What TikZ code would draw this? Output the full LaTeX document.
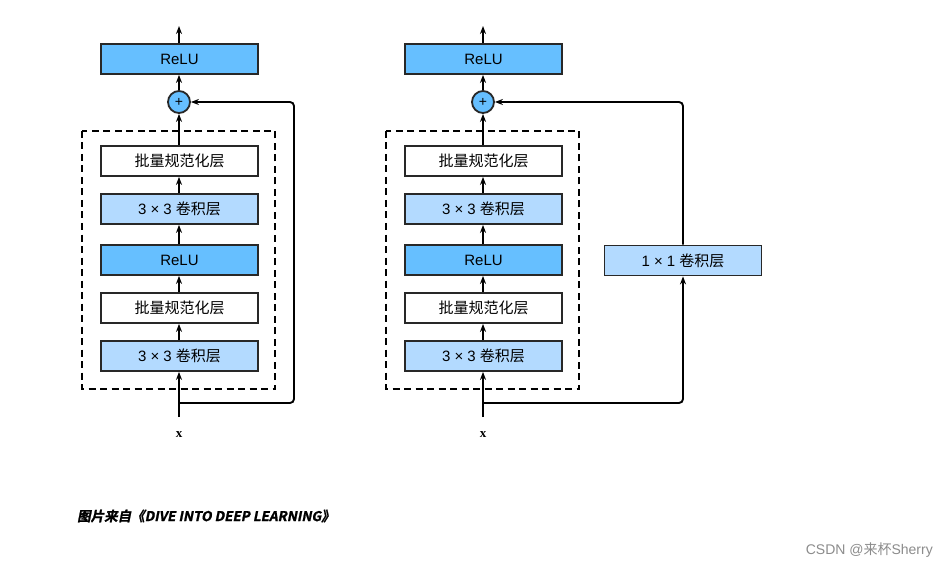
\documentclass[tikz,border=0pt]{standalone}
\usepackage{fontspec}
\setmainfont{Liberation Sans}
\newfontfamily\cjk{Noto Sans CJK SC}
\newfontfamily\xfont{Liberation Serif}
\newfontfamily\capfont[FakeSlant=0.2,FakeBold=1.5]{Noto Sans CJK SC Bold}
\usetikzlibrary{arrows.meta}
\definecolor{reluc}{RGB}{102,191,255}
\definecolor{convc}{RGB}{179,218,255}
\definecolor{edgec}{RGB}{40,40,40}
\begin{document}
\begin{tikzpicture}[x=1pt,y=-1pt,
  layer/.style={draw=edgec,line width=1.8pt,minimum width=157pt,minimum height=30pt,inner sep=0pt,font=\fontsize{15}{17}\selectfont},
  relubox/.style={layer,fill=reluc},
  convbox/.style={layer,fill=convc},
  bnbox/.style={layer,fill=white},
  addnode/.style={circle,draw=edgec,line width=1.8pt,fill=reluc,minimum size=22pt,inner sep=0pt,font=\fontsize{14}{14}\selectfont},
  conn/.style={line width=1.9pt,-{Stealth[length=8pt,width=6pt]}},
  dbox/.style={draw=black,line width=1.8pt,dash pattern=on 7pt off 4.5pt},
  xlabel/.style={font=\xfont\bfseries\fontsize{13}{15}\selectfont}
]
\useasboundingbox (0,0) rectangle (949,569);
\fill[white] (0,0) rectangle (949,569);

% ---------- left ----------
\draw[dbox] (82,131) rectangle (275,389);
\node[relubox] (lrelu) at (179.5,59) {ReLU};
\node[addnode] (ladd) at (179,102) {+};
\node[bnbox] (lbn2) at (179.5,161) {\cjk 批量规范化层};
\node[convbox] (lconv2) at (179.5,209) {3 × 3 {\cjk 卷积层}};
\node[relubox] (lrelu1) at (179.5,260) {ReLU};
\node[bnbox] (lbn1) at (179.5,308) {\cjk 批量规范化层};
\node[convbox] (lconv1) at (179.5,356) {3 × 3 {\cjk 卷积层}};
\node[xlabel] (lx) at (179,435) {x};
\coordinate (lout) at (179,26);
\coordinate (lin) at (179,417);
\coordinate (lbr) at (179,403);
\coordinate (lskipa) at (294,403);
\coordinate (lskipb) at (294,102);
\draw[conn] (lrelu.north -| lout) -- (lout);
\draw[conn] (ladd) -- (lrelu.south -| ladd);
\draw[conn] (lbn2.north -| ladd) -- (ladd);
\draw[conn] (lconv2.north -| ladd) -- (lbn2.south -| ladd);
\draw[conn] (lrelu1.north -| ladd) -- (lconv2.south -| ladd);
\draw[conn] (lbn1.north -| ladd) -- (lrelu1.south -| ladd);
\draw[conn] (lconv1.north -| ladd) -- (lbn1.south -| ladd);
\draw[conn] (lin) -- (lconv1.south -| lin);
\draw[conn,rounded corners=4pt] (lbr) -- (lskipa) -- (lskipb) -- (ladd);

% ---------- right ----------
\draw[dbox] (386,131) rectangle (579,389);
\node[relubox] (rrelu) at (483.5,59) {ReLU};
\node[addnode] (radd) at (483,102) {+};
\node[bnbox] (rbn2) at (483.5,161) {\cjk 批量规范化层};
\node[convbox] (rconv2) at (483.5,209) {3 × 3 {\cjk 卷积层}};
\node[relubox] (rrelu1) at (483.5,260) {ReLU};
\node[bnbox] (rbn1) at (483.5,308) {\cjk 批量规范化层};
\node[convbox] (rconv1) at (483.5,356) {3 × 3 {\cjk 卷积层}};
\node[convbox] (rproj) at (683,260.5) {1 × 1 {\cjk 卷积层}};
\node[xlabel] (rx) at (483,435) {x};
\coordinate (rout) at (483,26);
\coordinate (rin) at (483,417);
\coordinate (rbr) at (483,403);
\coordinate (rskipa) at (683,403);
\coordinate (rskipb) at (683,102);
\draw[conn] (rrelu.north -| rout) -- (rout);
\draw[conn] (radd) -- (rrelu.south -| radd);
\draw[conn] (rbn2.north -| radd) -- (radd);
\draw[conn] (rconv2.north -| radd) -- (rbn2.south -| radd);
\draw[conn] (rrelu1.north -| radd) -- (rconv2.south -| radd);
\draw[conn] (rbn1.north -| radd) -- (rrelu1.south -| radd);
\draw[conn] (rconv1.north -| radd) -- (rbn1.south -| radd);
\draw[conn] (rin) -- (rconv1.south -| rin);
\draw[conn,rounded corners=4pt] (rbr) -- (rskipa) -- (rproj);
\draw[conn,rounded corners=4pt] (rproj) -- (rskipb) -- (radd);

% ---------- caption & watermark ----------
\node[anchor=west,inner sep=0pt,font=\capfont\fontsize{13.5}{15}\selectfont] (cap) at (77,516) {图片来自《DIVE INTO DEEP LEARNING》};
\node[anchor=east,inner sep=0pt,text=black!45,font=\fontsize{14}{16}\selectfont] (wm) at (933,550) {CSDN @{\cjk 来杯}Sherry};
\end{tikzpicture}
\end{document}
